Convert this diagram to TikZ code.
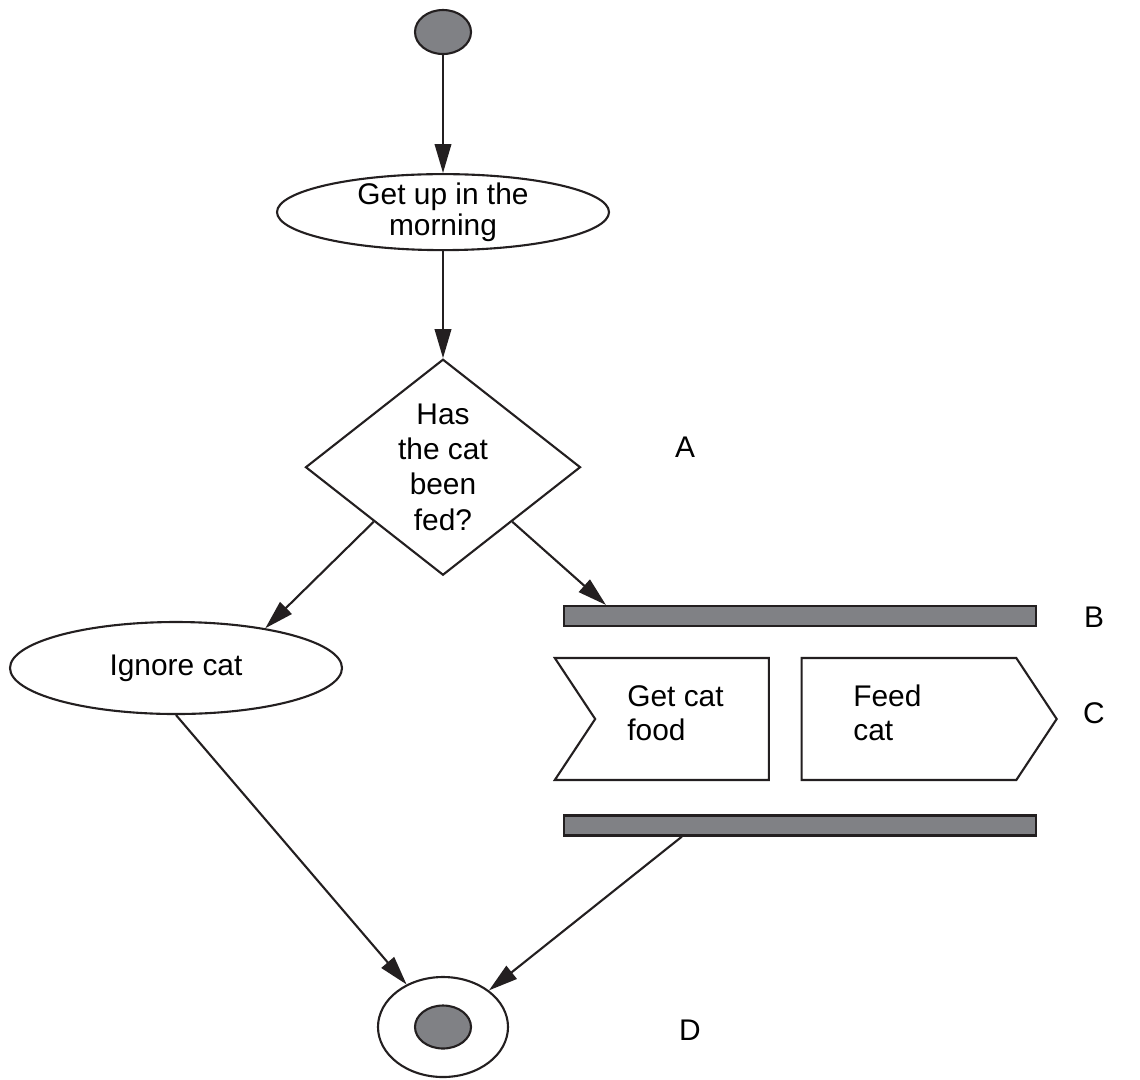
\documentclass[tikz,border=0pt]{standalone}
\usepackage{fontspec}
\setmainfont{Liberation Sans}
\usetikzlibrary{arrows.meta,calc,positioning,shapes.geometric,shapes.symbols}
\definecolor{bargray}{RGB}{128,129,133}
\definecolor{inkblack}{RGB}{35,31,32}
\tikzset{
  base/.style={draw=inkblack, line width=1.2pt, align=center, font=\fontsize{17}{19.5}\selectfont, inner sep=0pt},
  activity/.style={base, ellipse, minimum width=6.64cm},
  startdot/.style={base, ellipse, fill=bargray, minimum width=1.12cm, minimum height=0.88cm},
  decision/.style={base, diamond, minimum width=5.5cm, minimum height=4.3cm, font=\fontsize{17}{20}\selectfont},
  forkbar/.style={base, rectangle, fill=bargray, minimum width=9.44cm, minimum height=0.4cm},
  signalbox/.style={base, signal, signal pointer angle=113, minimum height=2.44cm},
  tag/.style={font=\fontsize{17}{19.5}\selectfont, inner sep=0pt, align=left},
  arrow/.style={-{Triangle[length=0.58cm, width=0.33cm]}, draw=inkblack, line width=1.2pt}
}
\begin{document}
\begin{tikzpicture}[node distance=2cm]
  \useasboundingbox (0,0) rectangle (22.8,-21.58);
  \node[startdot] (start) at (8.86,-0.64) {};
  \node[activity, minimum height=1.52cm, inner ysep=-1.8pt, font=\fontsize{17}{18}\selectfont, below=2.36cm of start] (morning) {Get up in the\\morning};
  \node[decision, below=2.14cm of morning] (fed) {Has\\the cat\\been\\fed?};
  \node[activity, minimum height=1.84cm] (ignore) at (3.52,-13.36) {Ignore cat};

  % fork, actions, join
  \node[forkbar] (fork) at (16.0,-12.32) {};
  \node[signalbox, signal from=west, signal to=nowhere, minimum width=4.28cm] (getfood) at (13.64,-14.38) {};
  \node[signalbox, signal to=east, minimum width=5.1cm] (feed) at (18.18,-14.38) {};
  \node[tag, anchor=west] (getfoodtxt) at (12.54,-14.26) {Get cat\\food};
  \node[tag, anchor=west] (feedtxt) at (17.06,-14.26) {Feed\\cat};
  \node[forkbar] (join) at (16.0,-16.51) {};

  \node[base, ellipse, minimum width=2.6cm, minimum height=2.0cm] (final) at (8.86,-20.54) {};
  \node[startdot, minimum width=1.12cm, minimum height=0.86cm] (finaldot) at (final) {};

  \node[tag] (labA) at (13.7,-8.94) {A};
  \node[tag] (labB) at (21.88,-12.34) {B};
  \node[tag] (labC) at (21.88,-14.26) {C};
  \node[tag] (labD) at (13.8,-20.6) {D};

  \draw[arrow] (start) -- (morning);
  \draw[arrow] (morning) -- (fed);
  \draw[arrow] (fed.south west) -- (ignore.24);
  \draw[arrow] (fed.south east) -- ($(fork.north west)+(0.86,0)$);
  \draw[arrow] (ignore.south) -- (final);
  \draw[arrow] ($(join.south west)+(2.38,0)$) -- (final);
\end{tikzpicture}
\end{document}
